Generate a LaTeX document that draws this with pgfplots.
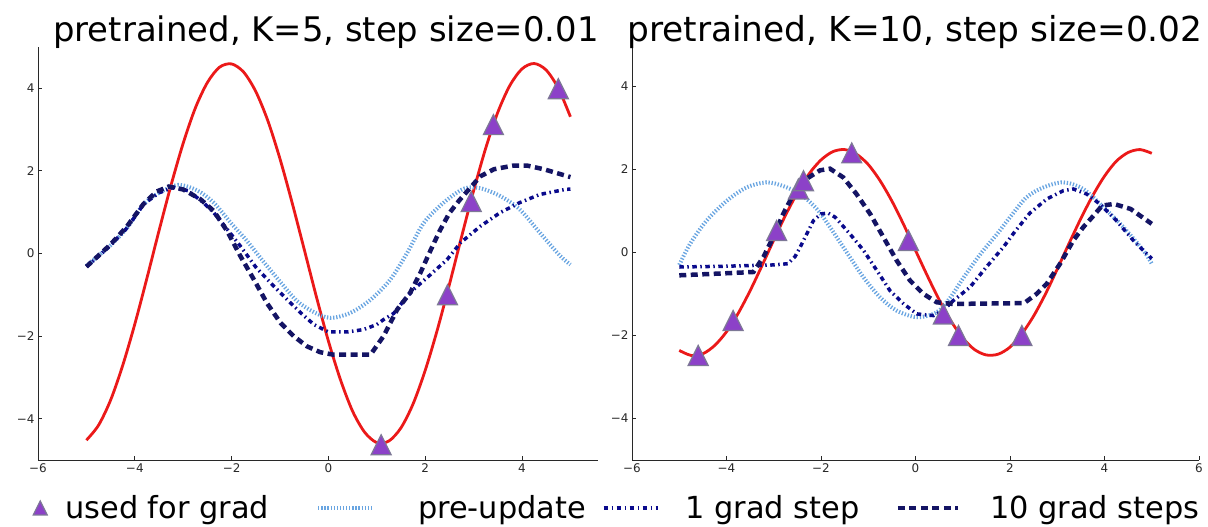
\documentclass[border=0pt]{standalone}
\usepackage{fontspec}
\setmainfont{DejaVu Sans}
\usepackage{pgfplots}
\pgfplotsset{compat=1.18}
\definecolor{redc}{RGB}{235,25,25}
\definecolor{preup}{RGB}{105,165,225}
\definecolor{onestep}{RGB}{10,10,140}
\definecolor{tenstep}{RGB}{20,20,100}
\definecolor{purp}{RGB}{140,65,200}
\definecolor{purpedge}{RGB}{125,120,150}
\definecolor{axgray}{RGB}{40,40,40}

\pgfdeclareplotmark{mtri}{%
 \pgfpathmoveto{\pgfqpoint{0pt}{\pgfplotmarksize}}%
 \pgfpathlineto{\pgfqpoint{-\pgfplotmarksize}{-\pgfplotmarksize}}%
 \pgfpathlineto{\pgfqpoint{\pgfplotmarksize}{-\pgfplotmarksize}}%
 \pgfpathclose\pgfusepathqfillstroke}

\pgfplotsset{
 panel/.style={
  scale only axis, anchor=south west,
  ymin=-5, ymax=5,
  axis x line*=bottom, axis y line*=left,
  axis line style={axgray, line width=0.8bp},
  tick align=inside, major tick length=4bp,
  tick style={axgray, line width=0.8bp},
  ytick={-4,-2,0,2,4}, yticklabels={−4,−2,0,2,4},
  tick label style={font=\fontsize{12}{14}\selectfont, text=axgray},
 },
 truth/.style={redc, line width=2.8bp, smooth},
 pre/.style={preup, line width=4bp, dash pattern=on 1.3bp off 1.8bp, smooth},
 one/.style={onestep, line width=3.5bp, dash pattern=on 4.5bp off 3.5bp on 1.5bp off 3.5bp},
 ten/.style={tenstep, line width=4.5bp, dash pattern=on 7bp off 4.5bp},
 grad/.style={only marks, mark=mtri, mark size=10bp, mark options={fill=purp, draw=purpedge, line width=1.2bp, solid}},
 trileg/.style={legend image code/.code={\path[draw=none] (0bp,0bp) -- (50bp,0bp); \draw[##1] plot coordinates {(25bp,0bp)};}},
 lineleg/.style={legend image code/.code={\draw[##1] (0bp,0bp) -- (54bp,0bp);}},
 longleg/.style={legend image code/.code={\draw[##1] (0bp,0bp) -- (60bp,0bp);}},
}

\begin{document}
\begin{tikzpicture}[x=1bp,y=1bp]
\path[use as bounding box] (0,0) rectangle (1208,527);

% ---------------- left panel ----------------
\begin{axis}[panel, at={(38bp,67bp)}, width=560bp, height=413bp,
  xmin=-6, xmax=5.57,
  xtick={-6,-4,-2,0,2,4}, xticklabels={−6,−4,−2,0,2,4},
  legend columns=4,
  legend cell align=left,
  legend style={draw=none, fill=none, at={(-0.041,-0.116)}, anchor=west,
    font=\fontsize{30.5}{36}\selectfont, inner sep=0pt,
    nodes={inner xsep=0pt, inner ysep=2bp},
    /tikz/column sep=0pt,
    /tikz/column 1/.style={column sep=0bp},
    /tikz/column 2/.style={column sep=47bp},
    /tikz/column 3/.style={column sep=44bp},
    /tikz/column 4/.style={column sep=16bp},
    /tikz/column 5/.style={column sep=26bp},
    /tikz/column 6/.style={column sep=36bp},
    /tikz/column 7/.style={column sep=30bp}},
]
\addlegendimage{grad, mark size=7bp, trileg}
\addlegendentry{used for grad}
\addlegendimage{pre, lineleg}
\addlegendentry{pre-update}
\addlegendimage{one, lineleg}
\addlegendentry{1 grad step}
\addlegendimage{ten, longleg}
\addlegendentry{10 grad steps}

\addplot[truth, forget plot] coordinates {
(-5,-4.52) (-4.75,-4.16) (-4.5,-3.55) (-4.25,-2.71) (-4,-1.71) (-3.75,-0.60) (-3.5,0.55)
(-3.25,1.66) (-3,2.67) (-2.75,3.52) (-2.5,4.14) (-2.25,4.51) (-2,4.59) (-1.75,4.39)
(-1.5,3.92) (-1.25,3.21) (-1,2.29) (-0.75,1.23) (-0.5,0.10) (-0.25,-1.04) (0,-2.12)
(0.25,-3.06) (0.5,-3.82) (0.75,-4.33) (1,-4.58) (1.25,-4.54) (1.5,-4.22) (1.75,-3.64)
(2,-2.83) (2.25,-1.85) (2.5,-0.75) (2.75,0.40) (3,1.52) (3.25,2.55) (3.5,3.42)
(3.75,4.07) (4,4.47) (4.25,4.60) (4.5,4.44) (4.75,4.00) (5,3.31)};
\addplot[pre, forget plot] coordinates {
(-5,-0.30) (-4.75,-0.05) (-4.5,0.20) (-4.16,0.62) (-3.82,1.19) (-3.5,1.47) (-3.1,1.66)
(-2.7,1.52) (-2.37,1.23) (-2,0.72) (-1.68,0.30) (-1.34,-0.20) (-1,-0.68) (-0.65,-1.15)
(-0.3,-1.42) (0.04,-1.56) (0.45,-1.44) (0.87,-1.12) (1.28,-0.63) (1.63,0.02) (1.97,0.74)
(2.38,1.23) (2.8,1.57) (3.14,1.58) (3.55,1.39) (3.95,1.07) (4.37,0.50) (4.79,-0.06) (5,-0.27)};
\addplot[one, forget plot] coordinates {
(-5,-0.32) (-4.75,-0.07) (-4.5,0.20) (-4.16,0.62) (-3.82,1.19) (-3.5,1.47) (-3.2,1.60)
(-2.9,1.52) (-2.6,1.25) (-2.37,0.99) (-2.1,0.60) (-1.82,0.18) (-1.5,-0.33) (-1.13,-0.79)
(-0.85,-1.12) (-0.57,-1.44) (-0.3,-1.72) (0,-1.90) (0.4,-1.90) (0.73,-1.84) (1.0,-1.72)
(1.14,-1.60) (1.35,-1.45) (1.55,-1.15) (1.76,-0.87) (2.11,-0.51) (2.45,-0.15) (2.73,0.26)
(3.14,0.66) (3.55,0.99) (3.95,1.23) (4.37,1.43) (4.89,1.55) (5,1.56)};
\addplot[ten, forget plot] coordinates {
(-5,-0.32) (-4.75,-0.05) (-4.5,0.22) (-4.16,0.66) (-3.82,1.20) (-3.55,1.50) (-3.3,1.62)
(-3.0,1.55) (-2.64,1.31) (-2.37,1.03) (-2.09,0.54) (-1.82,-0.06) (-1.54,-0.63) (-1.27,-1.20)
(-0.99,-1.68) (-0.72,-2.00) (-0.44,-2.25) (-0.17,-2.39) (0.1,-2.45) (0.87,-2.45) (1.14,-2.00)
(1.42,-1.36) (1.69,-0.95) (1.9,-0.47) (2.1,0.05) (2.3,0.55) (2.5,0.98) (2.7,1.28) (2.9,1.55)
(3.14,1.87) (3.42,2.04) (3.83,2.13) (4.1,2.13) (4.45,2.04) (5,1.85)};
\addplot[grad, forget plot] coordinates {
(1.09,-4.63) (2.46,-1.0) (2.95,1.26) (3.41,3.12) (4.75,3.99)};
\end{axis}

% ---------------- right panel ----------------
\begin{axis}[panel, at={(632bp,67bp)}, width=567bp, height=415bp,
  xmin=-6, xmax=6,
  xtick={-6,-4,-2,0,2,4,6}, xticklabels={−6,−4,−2,0,2,4,6},
]
\addplot[truth] coordinates {
(-5,-2.36) (-4.75,-2.48) (-4.5,-2.44) (-4.25,-2.24) (-4,-1.91) (-3.75,-1.46) (-3.5,-0.92)
(-3.25,-0.32) (-3,0.30) (-2.75,0.90) (-2.5,1.44) (-2.25,1.90) (-2,2.23) (-1.75,2.43)
(-1.5,2.48) (-1.25,2.37) (-1,2.12) (-0.75,1.73) (-0.5,1.24) (-0.25,0.67) (0,0.05)
(0.25,-0.56) (0.5,-1.14) (0.75,-1.65) (1,-2.06) (1.25,-2.34) (1.5,-2.47) (1.75,-2.45)
(2,-2.28) (2.25,-1.96) (2.5,-1.53) (2.75,-1.00) (3,-0.40) (3.25,0.22) (3.5,0.82)
(3.75,1.37) (4,1.84) (4.25,2.20) (4.5,2.41) (4.75,2.48) (5,2.39)};
\addplot[pre] coordinates {
(-5,-0.30) (-4.77,0.21) (-4.42,0.77) (-3.99,1.25) (-3.57,1.57) (-3.15,1.69) (-2.8,1.60)
(-2.44,1.41) (-2.09,1.05) (-1.81,0.61) (-1.39,-0.11) (-1.1,-0.60) (-0.75,-1.08) (-0.4,-1.40)
(0.03,-1.56) (0.45,-1.44) (0.74,-1.08) (1.02,-0.60) (1.38,-0.03) (1.73,0.45) (2.0,0.85)
(2.35,1.33) (2.71,1.57) (3.13,1.69) (3.55,1.53) (3.98,1.09) (4.4,0.61) (4.82,0.05) (5,-0.27)};
\addplot[one] coordinates {
(-5,-0.35) (-4,-0.33) (-3,-0.30) (-2.7,-0.27) (-2.55,-0.10) (-2.44,0.13) (-2.3,0.45)
(-2.16,0.77) (-2.0,0.93) (-1.85,0.95) (-1.7,0.85) (-1.39,0.45) (-1.1,0.05) (-0.82,-0.43)
(-0.54,-0.92) (-0.25,-1.24) (0.03,-1.48) (0.38,-1.52) (0.6,-1.38) (0.8,-1.16) (1.15,-0.84)
(1.5,-0.35) (1.86,0.13) (2.1,0.50) (2.42,0.95) (2.78,1.29) (3.13,1.49) (3.34,1.53)
(3.62,1.41) (3.9,1.17) (4.25,0.77) (4.61,0.29) (5,-0.15)};
\addplot[ten] coordinates {
(-5,-0.55) (-4,-0.50) (-3.43,-0.47) (-3.22,-0.11) (-3.01,0.37) (-2.8,0.93) (-2.58,1.41)
(-2.37,1.73) (-2.02,1.98) (-1.81,2.02) (-1.53,1.81) (-1.25,1.41) (-0.96,0.93) (-0.68,0.37)
(-0.4,-0.19) (-0.12,-0.67) (0.17,-1.00) (0.45,-1.20) (0.8,-1.24) (2.3,-1.22) (2.56,-1.00)
(2.78,-0.75) (3.06,-0.27) (3.34,0.29) (3.55,0.61) (3.77,0.89) (3.95,1.13) (4.2,1.17)
(4.55,1.05) (5,0.69)};
\addplot[grad] coordinates {
(-4.60,-2.48) (-3.86,-1.64) (-2.94,0.53) (-2.48,1.53) (-2.37,1.73) (-1.35,2.40)
(-0.15,0.29) (0.59,-1.48) (0.91,-2.0) (2.25,-2.0)};
\end{axis}

\node[anchor=base, font=\fontsize{34}{40}\selectfont, inner sep=0pt] at (326,485) {pretrained, K=5, step size=0.01};
\node[anchor=base, font=\fontsize{34.5}{40}\selectfont, inner sep=0pt] at (915,485) {pretrained, K=10, step size=0.02};
\end{tikzpicture}
\end{document}
